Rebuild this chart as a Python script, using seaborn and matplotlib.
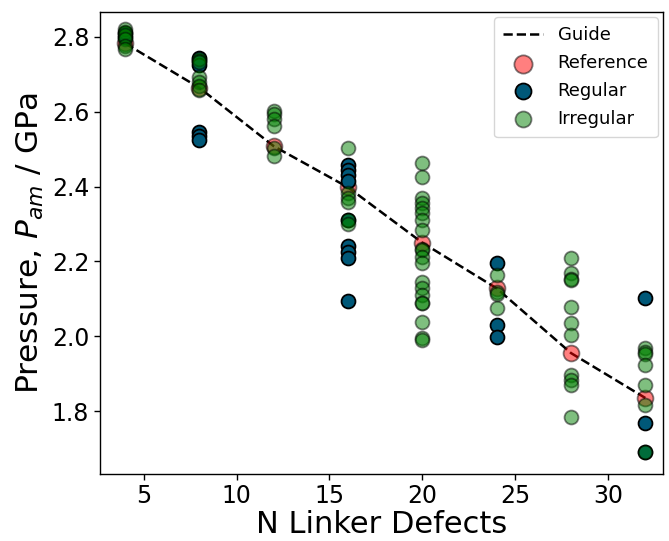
import matplotlib
matplotlib.use("Agg")
import matplotlib.pyplot as plt
import seaborn as sns
import pandas as pd

# Guide / reference structures
ref_x = [4, 8, 12, 16, 20, 24, 28, 32]
ref_y = [2.783, 2.664, 2.508, 2.398, 2.250, 2.128, 1.955, 1.835]

# Regular defect arrangements
reg_x = [4, 4,
         8, 8, 8, 8, 8, 8,
         16, 16, 16, 16, 16, 16, 16, 16, 16,
         24, 24, 24,
         32, 32, 32]
reg_y = [2.81, 2.80,
         2.745, 2.735, 2.725, 2.545, 2.535, 2.525,
         2.458, 2.445, 2.430, 2.415, 2.310, 2.240, 2.225, 2.210, 2.095,
         2.196, 2.030, 1.998,
         2.102, 1.768, 1.690]

# Irregular defect arrangements
irr_x = [4, 4, 4, 4, 4, 4,
         8, 8, 8, 8, 8, 8,
         12, 12, 12, 12, 12, 12,
         16, 16, 16, 16, 16, 16,
         20, 20, 20, 20, 20, 20, 20, 20, 20, 20, 20, 20, 20, 20, 20, 20, 20, 20, 20, 20,
         24, 24, 24, 24,
         28, 28, 28, 28, 28, 28, 28, 28, 28, 28, 28,
         32, 32, 32, 32, 32, 32, 32]
irr_y = [2.820, 2.812, 2.805, 2.795, 2.775, 2.768,
         2.742, 2.732, 2.692, 2.680, 2.668, 2.658,
         2.603, 2.595, 2.580, 2.562, 2.503, 2.482,
         2.503, 2.383, 2.370, 2.360, 2.312, 2.300,
         2.463, 2.426, 2.370, 2.356, 2.343, 2.329, 2.311, 2.284, 2.232, 2.230,
         2.212, 2.196, 2.145, 2.129, 2.110, 2.090, 2.088, 2.038, 1.995, 1.990,
         2.164, 2.118, 2.112, 2.075,
         2.209, 2.169, 2.152, 2.150, 2.078, 2.035, 2.003, 1.896, 1.883, 1.870, 1.784,
         1.968, 1.958, 1.952, 1.923, 1.870, 1.816, 1.690]

ref_df = pd.DataFrame({"x": ref_x, "y": ref_y})
reg_df = pd.DataFrame({"x": reg_x, "y": reg_y})
irr_df = pd.DataFrame({"x": irr_x, "y": irr_y})

sns.set_style("ticks")
plt.rcParams["font.family"] = ["DejaVu Sans"]
plt.rcParams["text.color"] = "black"
plt.rcParams["axes.labelcolor"] = "black"

fig = plt.figure(figsize=(6.69, 5.41), dpi=100)
ax = fig.add_axes([0.149, 0.124, 0.842, 0.854])

sns.lineplot(data=ref_df, x="x", y="y", ax=ax, color="black", linestyle="--",
             linewidth=1.8, label="Guide", zorder=1)
sns.scatterplot(data=ref_df, x="x", y="y", ax=ax, color="red", alpha=0.5,
                edgecolor="black", linewidth=1.3, s=130, label="Reference", zorder=2)
sns.scatterplot(data=reg_df, x="x", y="y", ax=ax, color="#005878", alpha=1.0,
                edgecolor="black", linewidth=1.3, s=100, label="Regular", zorder=3)
sns.scatterplot(data=irr_df, x="x", y="y", ax=ax, color="green", alpha=0.5,
                edgecolor="black", linewidth=1.3, s=100, label="Irregular", zorder=4)

ax.set_xlim(2.63, 32.95)
ax.set_ylim(1.632, 2.867)
ax.set_xticks([5, 10, 15, 20, 25, 30])
ax.set_yticks([1.8, 2.0, 2.2, 2.4, 2.6, 2.8])
ax.set_yticklabels(["1.8", "2.0", "2.2", "2.4", "2.6", "2.8"])
ax.tick_params(labelsize=17, length=4, width=1, colors="black")
for sp in ax.spines.values():
    sp.set_color("black")
    sp.set_linewidth(1.0)

ax.set_xlabel("N Linker Defects", fontsize=22, labelpad=1)
ax.set_ylabel("Pressure, $P_{am}$ / GPa", fontsize=22.5, labelpad=4)

ax.legend(loc="upper right", fontsize=13, frameon=True, handlelength=2.2,
          borderpad=0.5, labelspacing=0.55, borderaxespad=0.3, markerscale=1.15)

fig.savefig("out.png", dpi=100)
